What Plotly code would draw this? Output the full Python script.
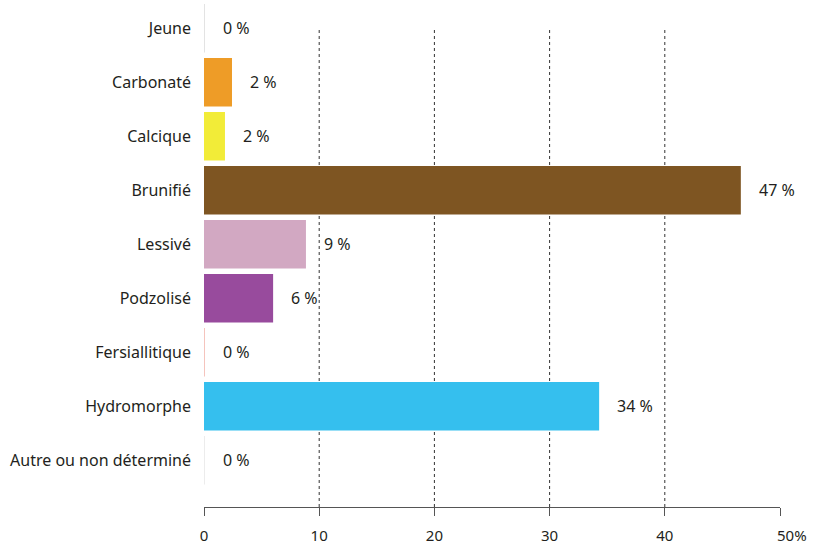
import plotly.graph_objects as go

categories = ["Jeune", "Carbonaté", "Calcique", "Brunifié", "Lessivé",
              "Podzolisé", "Fersiallitique", "Hydromorphe", "Autre ou non déterminé"]
values = [0.08, 2.43, 1.82, 46.6, 8.85, 6.0, 0.08, 34.3, 0.08]
labels = ["0 %", "2 %", "2 %", "47 %", "9 %", "6 %", "0 %", "34 %", "0 %"]
colors = ["#e3e3e3", "#ee9c27", "#f2ec38", "#7e5522", "#d2a8c2",
          "#984b9d", "#f5c4bd", "#35bfee", "#ececec"]
x_ticks = [0, 10, 20, 30, 40, 50]
x_ticktext = ["0", "10", "20", "30", "40", ""]
x_last_label = "50%"
grid_vals = [10, 20, 30, 40]

FONT = "Noto Sans"
TXT = "#231f20"

fig = go.Figure()
fig.add_trace(go.Bar(
    y=categories, x=values, orientation="h",
    marker=dict(color=colors, line=dict(width=0)),
    width=0.9, hoverinfo="skip",
))

for c, v, t in zip(categories, values, labels):
    fig.add_annotation(x=v, y=c, text=t, showarrow=False, xanchor="left",
                       xshift=16, font=dict(family=FONT, size=16, color=TXT))

# last tick label (with unit), drawn as in the reference
fig.add_annotation(x=x_ticks[-1], y=0, yref="paper", text=x_last_label, showarrow=False,
                   xanchor="left", yanchor="middle", xshift=-5, yshift=-28,
                   font=dict(family=FONT, size=15, color=TXT))

for g in grid_vals:
    fig.add_shape(type="line", xref="x", yref="paper", x0=g, x1=g, y0=0, y1=0.943,
                  line=dict(color="#333333", width=1, dash="3px,3px"), layer="below")

fig.update_layout(
    width=817, height=544,
    margin=dict(l=204, r=37, t=1, b=37),
    paper_bgcolor="white", plot_bgcolor="white",
    showlegend=False,
    font=dict(family=FONT, size=15, color=TXT),
    bargap=0.1,
)
fig.update_xaxes(
    range=[0, 50], tickvals=x_ticks, ticktext=x_ticktext,
    showgrid=False, zeroline=False, automargin=False,
    showline=True, linecolor="#555555", linewidth=1.2,
    ticks="outside", ticklen=8, tickwidth=1.2, tickcolor="#555555",
    ticklabelstandoff=7,
    tickfont=dict(family=FONT, size=15, color=TXT),
)
fig.update_yaxes(
    categoryorder="array", categoryarray=categories,
    range=[8.865, -0.506], automargin=False,
    showgrid=False, zeroline=False, showline=False, ticks="",
    ticklabelstandoff=12,
    tickfont=dict(family=FONT, size=16, color=TXT),
)

fig.write_html("out.html", config={"displayModeBar": False},
               post_script="document.body.style.margin='0px';document.body.style.overflow='hidden';")
